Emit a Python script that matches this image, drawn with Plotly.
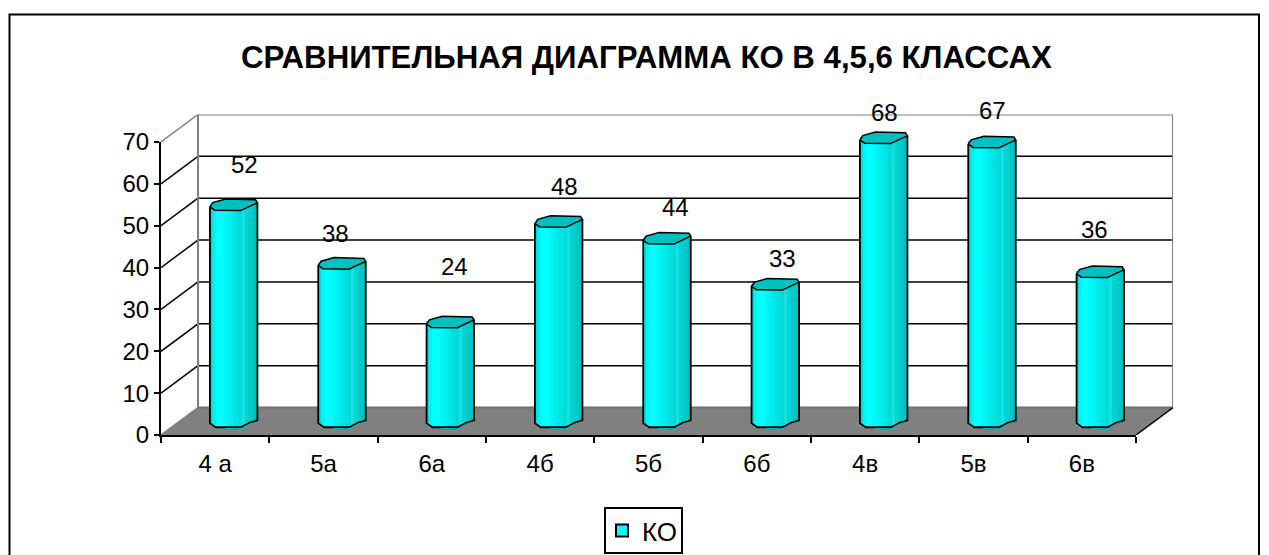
import plotly.graph_objects as go

# ---- data ----
categories = ["4 а", "5а", "6а", "4б", "5б", "6б", "4в", "5в", "6в"]
values = [52, 38, 24, 48, 44, 33, 68, 67, 36]
series_name = "КО"
y_ticks = [0, 10, 20, 30, 40, 50, 60, 70]
title_text = "СРАВНИТЕЛЬНАЯ ДИАГРАММА КО В 4,5,6 КЛАССАХ"
# hand-placed data label offsets in the original (px: right, up from bar centre top)
label_dx = [11, -7, 4, 6, 8, 7, 1, 0, -6]
label_dy = [39, 29, 54, 34, 30, 25, 24, 30, 41]

# ---- layout constants (pixels in the 1269x555 picture) ----
W, H = 1269, 555
FX0, FX1 = 161.0, 1136.0     # front plane
FY0, FY70 = 435.0, 142.0
DX_PX, DY_PX = 37.0, 27.5    # depth of chart
BAR_W_PX = 47.5
FONT = "Liberation Sans, Arial, sans-serif"
FS = 24

cat_px = (FX1 - FX0) / len(categories)
val_px = (FY0 - FY70) / 70.0
DX = DX_PX / cat_px
DY = DY_PX / val_px
BW = BAR_W_PX / cat_px
XMIN, XMAX = -0.5, len(categories) - 0.5
YMAX = 70


def px(v):
    return v / W


def py(v):
    return 1 - v / H


def X(c, t=0.5):
    """bar-local fraction t across the width -> scene x"""
    return c + DX / 2 + (t - 0.5) * BW


def Y(v, off=0.0):
    """value at mid depth, off = px downward"""
    return v + DY / 2 - off / val_px


# cylinder shading strips (left to right)
strips = ["#00dede", "#00f4f4", "#00ffff", "#00ffff", "#00fcfc", "#00f6f6", "#00f0f0", "#00eaea",
          "#00e4e4", "#00dede", "#00dada", "#18e0e0", "#00d4d4", "#00cece", "#00c8c8", "#00c0c0"]
# low-polygon outline of the cap: (t across bar, px below centre)
front = [(0.0, 3.4), (0.1, 6.6), (0.65, 7.0), (0.82, 3.0), (1.0, -0.8)]
back = [(0.96, -3.8), (0.33, -4.6), (0.06, -1.0)]


def front_off(t):
    for (t0, o0), (t1, o1) in zip(front, front[1:]):
        if t0 <= t <= t1:
            return o0 + (o1 - o0) * (t - t0) / (t1 - t0)
    return front[-1][1]


fig = go.Figure()

# Cylinder bodies, as stacked narrow bars
n = len(strips)
for k, col in enumerate(strips):
    t = (k + 0.5) / n
    fig.add_trace(go.Bar(
        x=[X(i, t) for i in range(len(values))],
        base=[Y(0, front_off(t)) for _ in values],
        y=[Y(v) - Y(0, front_off(t)) for v in values],
        width=BW / n * 1.08,
        marker=dict(color=col, line=dict(width=0)),
        showlegend=False, hoverinfo="skip",
        xaxis="x", yaxis="y",
    ))

# Legend entry
fig.add_trace(go.Bar(
    x=[None], y=[None], name=series_name,
    marker=dict(color="#00ffff", line=dict(color="black", width=2)),
    showlegend=True, xaxis="x", yaxis="y",
))

# Trace that carries the front axes
fig.add_trace(go.Scatter(
    x=categories, y=values, mode="markers", marker=dict(opacity=0, size=1),
    showlegend=False, hoverinfo="skip", xaxis="x2", yaxis="y2",
))

shapes = []
GRAY = "#808080"


def scene_line(x0, y0, x1, y1, color, width, layer="below"):
    shapes.append(dict(type="line", xref="x", yref="y", x0=x0, y0=y0, x1=x1, y1=y1,
                       line=dict(color=color, width=width), layer=layer))


# Floor
shapes.append(dict(
    type="path", xref="x", yref="y", layer="below",
    path=f"M{XMIN},0 L{XMAX},0 L{XMAX + DX},{DY} L{XMIN + DX},{DY} Z",
    fillcolor="#808080", line=dict(width=0),
))
# Wall grid lines and depth lines
for v in y_ticks:
    outer = v in (0, YMAX)
    c = GRAY if outer else "black"
    w = 2 if outer else 1.5
    if v != 0:
        scene_line(XMIN + DX, v + DY, XMAX + DX, v + DY, c, w)
    scene_line(XMIN, v, XMIN + DX, v + DY, c, 1.5)
scene_line(XMIN + DX, DY, XMAX + DX, DY, "#6e6e6e", 2)
scene_line(XMIN + DX, DY, XMIN + DX, YMAX + DY, GRAY, 2)
scene_line(XMAX + DX, DY, XMAX + DX, YMAX + DY, GRAY, 2)
scene_line(XMAX, 0, XMAX + DX, DY, "black", 1.5)


def poly(c, v, pts):
    return " L".join(f"{X(c, t)},{Y(v, o)}" for t, o in pts)


for i, v in enumerate(values):
    # silhouette
    low = [(0.0, 2.0), (0.12, 6.0), (0.65, 6.0), (0.83, 1.5), (1.0, -1.0)]
    path = (f"M{X(i, 0)},{Y(v, 3.4)} L" + poly(i, 0, low) + f" L{X(i, 1)},{Y(v, -0.8)}")
    shapes.append(dict(type="path", xref="x", yref="y", layer="above", path=path,
                       line=dict(color="black", width=1.8)))
    # cap
    cap = "M" + poly(i, v, front + back) + " Z"
    shapes.append(dict(type="path", xref="x", yref="y", layer="above", path=cap,
                       fillcolor="#00c0c0", line=dict(color="black", width=1.5)))

# Outer frame of the chart
shapes.append(dict(type="rect", xref="paper", yref="paper", layer="below",
                   x0=px(9.5), x1=px(1259), y0=py(14.5), y1=py(570),
                   line=dict(color="black", width=2), fillcolor="white"))
# Legend box
shapes.append(dict(type="rect", xref="paper", yref="paper", layer="below",
                   x0=px(605), x1=px(682), y0=py(508), y1=py(553),
                   line=dict(color="black", width=2), fillcolor="white"))

annotations = [dict(
    text=f"<b>{title_text}</b>", xref="paper", yref="paper", x=px(646), y=py(57),
    xanchor="center", yanchor="middle", showarrow=False,
    font=dict(family=FONT, size=31.2, color="black"),
)]
for i, v in enumerate(values):
    annotations.append(dict(
        text=str(v), xref="x", yref="y", x=X(i), y=Y(v),
        xshift=label_dx[i], yshift=label_dy[i],
        xanchor="center", yanchor="middle", showarrow=False,
        font=dict(family=FONT, size=FS, color="black"),
    ))

fig.update_layout(
    width=W, height=H,
    margin=dict(l=0, r=0, t=0, b=0, autoexpand=False),
    paper_bgcolor="white", plot_bgcolor="rgba(0,0,0,0)",
    barmode="overlay", bargap=0,
    shapes=shapes, annotations=annotations,
    showlegend=True,
    legend=dict(
        x=px(602), y=py(530.5), xanchor="left", yanchor="middle",
        bgcolor="rgba(0,0,0,0)", borderwidth=0,
        font=dict(family=FONT, size=26, color="black"),
    ),
    # scene axes: cover the front plane plus the depth
    xaxis=dict(domain=[px(FX0), px(FX1 + DX_PX)], range=[XMIN, XMAX + DX], visible=False, fixedrange=True),
    yaxis=dict(domain=[py(FY0), py(FY70 - DY_PX)], range=[0, YMAX + DY], visible=False, fixedrange=True),
    # front axes, with ticks and labels
    xaxis2=dict(
        domain=[px(FX0), px(FX1)], type="category", categoryorder="array", categoryarray=categories,
        range=[XMIN, XMAX], anchor="y2", tickson="boundaries", ticks="outside", ticklen=6, tickwidth=1.5,
        tickcolor="black", showline=True, linecolor="black", linewidth=2, showgrid=False, zeroline=False,
        ticklabelstandoff=6,
        tickfont=dict(family=FONT, size=FS, color="black"), fixedrange=True,
    ),
    yaxis2=dict(
        domain=[py(FY0), py(FY70)], range=[0, YMAX], anchor="x2",
        tickmode="array", tickvals=y_ticks, ticktext=[str(t) for t in y_ticks],
        ticks="outside", ticklen=5, tickwidth=1.5, tickcolor="black",
        showline=True, linecolor="black", linewidth=2, showgrid=False, zeroline=False,
        tickfont=dict(family=FONT, size=FS, color="black"), fixedrange=True,
    ),
)

fig.write_html("out.html", config={"displayModeBar": False},
               post_script="document.body.style.margin='0';document.body.style.overflow='hidden';")
